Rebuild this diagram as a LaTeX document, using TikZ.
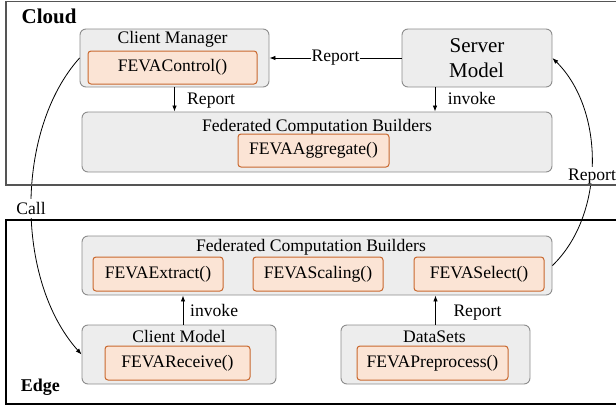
\documentclass[tikz,border=0pt]{standalone}
\usepackage{fontspec}
\setmainfont{Liberation Serif}
\usetikzlibrary{arrows.meta,calc}
\definecolor{boxfill}{HTML}{EDEDED}
\definecolor{boxdraw}{HTML}{8C8C8C}
\definecolor{ofill}{HTML}{FBE4D5}
\definecolor{odraw}{HTML}{C9682E}
\definecolor{framegray}{HTML}{555555}
\begin{document}
\begin{tikzpicture}[x=1pt,y=-1pt,
  txt/.style={font=\fontsize{17.6}{20}\selectfont, inner sep=0pt},
  bigtxt/.style={font=\fontsize{21}{25}\selectfont, inner sep=0pt},
  graybox/.style={draw=boxdraw, fill=boxfill, rounded corners=6pt, line width=0.9pt, inner sep=0pt},
  obox/.style={draw=odraw, fill=ofill, rounded corners=3pt, line width=1pt, inner sep=0pt, font=\fontsize{17.6}{20}\selectfont},
  arr/.style={-{Latex[length=6pt,width=4.5pt]}, line width=0.8pt},
  lbl/.style={txt, fill=white},
]
\useasboundingbox (0,0) rectangle (616,407);
\clip (0,0) rectangle (616,407);

% Cloud
\node[graybox, minimum width=189pt, minimum height=58pt] (cm) at (174.5,58) {};
\node[txt, anchor=base] (cmt) at (172.5,43.5) {Client Manager};
\node[obox, minimum width=169pt, minimum height=33pt] (cmf) at (172.5,67.5) {FEVAControl()};

\node[graybox, minimum width=150pt, minimum height=58pt] (sm) at (477,58) {};
\node[bigtxt, anchor=base] (smt1) at (477,52.3) {Server};
\node[bigtxt, anchor=base] (smt2) at (476.5,77.3) {Model};

\node[graybox, minimum width=470pt, minimum height=60pt] (cfcb) at (317,142) {};
\node[txt, anchor=base] (cfcbt) at (317,131) {Federated Computation Builders};
\node[obox, minimum width=151pt, minimum height=33pt] (agg) at (313.5,150.5) {FEVAAggregate()};

% Edge
\node[graybox, minimum width=470pt, minimum height=59pt] (efcb) at (317,265.5) {};
\node[txt, anchor=base] (efcbt) at (311,251) {Federated Computation Builders};
\node[obox, minimum width=130pt, minimum height=34pt] (ext) at (158,274) {FEVAExtract()};
\node[obox, minimum width=130pt, minimum height=34pt] (scl) at (318,274) {FEVAScaling()};
\node[obox, minimum width=130pt, minimum height=34pt] (sel) at (479,274) {FEVASelect()};

\node[graybox, minimum width=194pt, minimum height=59pt] (cmod) at (179,354.5) {};
\node[txt, anchor=base] (cmodt) at (179,342.7) {Client Model};
\node[obox, minimum width=145pt, minimum height=34pt] (rcv) at (177.5,363) {FEVAReceive()};

\node[graybox, minimum width=189pt, minimum height=59pt] (ds) at (435.5,354.5) {};
\node[txt, anchor=base] (dst) at (434.5,342) {DataSets};
\node[obox, minimum width=151pt, minimum height=34pt] (pre) at (432.5,363) {FEVAPreprocess()};

% connectors
\draw[arr] (sm.west) -- (cm.east) node[lbl, midway, inner xsep=1pt, inner ysep=1pt] (rep1) {Report};
\draw[arr] (cm.south) -- (cm.south |- cfcb.north);
\node[txt, anchor=base west] (rep2) at (187,104.5) {Report};
\draw[arr] ([xshift=-42pt]sm.south) -- ([xshift=-42pt]sm.south |- cfcb.north);
\node[txt, anchor=base west] (inv1) at (447.7,104.3) {invoke};

\draw[arr] ([xshift=4pt]cmod.north) -- ([xshift=4pt]cmod.north |- efcb.south);
\node[txt, anchor=base west] (inv2) at (190,316.7) {invoke};
\draw[arr] (ds.north) -- (ds.north |- efcb.south);
\node[txt, anchor=base west] (rep3) at (453.3,316.7) {Report};

\draw[arr] (cm.west) .. controls (15,130) and (15,280) .. (cmod.west);
\node[lbl, anchor=base, inner xsep=1pt, inner ysep=3.5pt] (call) at (31,214.3) {Call};

\draw[arr] (efcb.east) .. controls (605,215) and (605,110) .. (sm.east);
\node[lbl, anchor=base, inner sep=1.5pt] (rep4) at (592,180) {Report};

% frames
\draw[framegray, line width=1.8pt] (6,1.5) rectangle (640,185);
\draw[black, line width=1.1pt] (6,220) rectangle (640,404);
\node[font=\fontsize{21}{25}\selectfont\bfseries, anchor=base west, inner sep=0pt] (cloud) at (21.5,23.7) {Cloud};
\node[font=\fontsize{18}{22}\selectfont\bfseries, anchor=base west, inner sep=0pt] (edge) at (20.7,391.7) {Edge};
\end{tikzpicture}
\end{document}
